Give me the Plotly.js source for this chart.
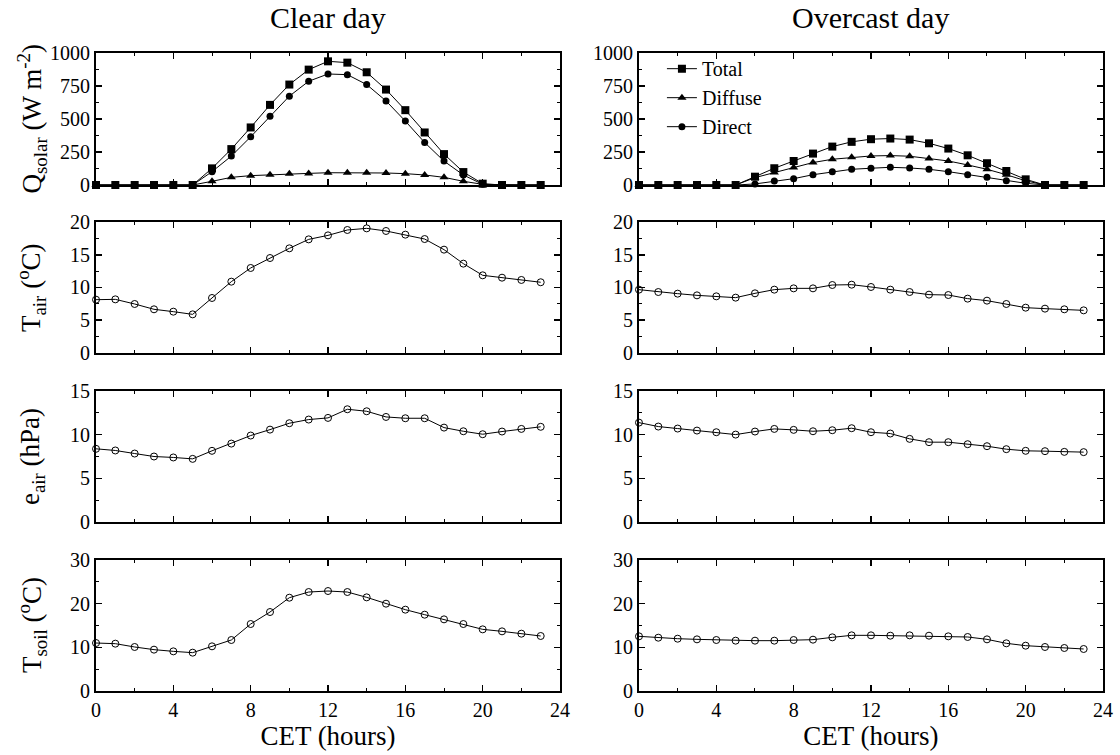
<!DOCTYPE html>
<html><head><meta charset="utf-8">
<script src="https://cdn.plot.ly/plotly-3.0.1.min.js"></script>
<style>html,body{margin:0;padding:0;background:#fff}</style>
</head><body>
<div id="chart" style="width:1120px;height:755px"></div>
<script>
const hours = [0,1,2,3,4,5,6,7,8,9,10,11,12,13,14,15,16,17,18,19,20,21,22,23];

const clearTotal   = [0,0,0,0,0,0,126,272,436,607,761,874,937,927,854,723,567,398,234,98,10,0,0,0];
const clearDiffuse = [0,0,0,0,0,0,28,58,71,78,86,88,93,93,93,91,86,76,58,28,5,0,0,0];
const clearDirect  = [0,0,0,0,0,0,101,219,365,521,673,786,841,836,761,637,484,322,181,76,5,0,0,0];

const overTotal   = [0,0,0,0,0,0,63,127,182,238,291,327,347,352,344,316,276,225,165,106,43,0,0,0];
const overDiffuse = [0,0,0,0,0,0,56,94,132,170,195,210,220,223,218,200,182,152,119,78,32,0,0,0];
const overDirect  = [0,0,0,0,0,0,8,30,48,78,101,119,127,134,129,119,101,78,58,33,13,0,0,0];

const clearTair = [8.14,8.19,7.48,6.67,6.31,5.90,8.40,10.89,12.98,14.50,15.98,17.35,17.96,18.78,19.03,18.63,18.07,17.40,15.78,13.64,11.86,11.50,11.15,10.8];
const overTair  = [9.67,9.31,9.06,8.80,8.65,8.45,9.11,9.67,9.87,9.87,10.38,10.43,10.08,9.67,9.31,8.91,8.85,8.30,7.99,7.48,6.92,6.77,6.67,6.51];

const clearEair = [8.38,8.19,7.84,7.50,7.39,7.23,8.15,8.98,9.90,10.58,11.31,11.73,11.92,12.91,12.68,12.03,11.88,11.88,10.81,10.39,10.05,10.36,10.66,10.9];
const overEair  = [11.38,10.93,10.70,10.47,10.28,10.01,10.36,10.66,10.55,10.39,10.51,10.74,10.28,10.13,9.52,9.14,9.14,8.91,8.68,8.34,8.15,8.11,8.03,8.0];

const clearTsoil = [10.99,10.84,10.08,9.47,9.08,8.78,10.23,11.68,15.34,18.09,21.37,22.67,22.90,22.67,21.45,20.0,18.63,17.48,16.41,15.34,14.12,13.66,13.13,12.6];
const overTsoil  = [12.52,12.21,11.98,11.83,11.68,11.53,11.53,11.53,11.68,11.76,12.29,12.75,12.75,12.67,12.75,12.67,12.52,12.37,11.83,10.92,10.38,10.08,9.85,9.62];

const columnTitles = ['Clear day', 'Overcast day'];
const rowTitles = ['Q<sub>solar</sub> (W m<sup>-2</sup>)', 'T<sub>air</sub> (<sup>o</sup>C)', 'e<sub>air</sub> (hPa)', 'T<sub>soil</sub> (<sup>o</sup>C)'];
const xTitle = 'CET (hours)';
const solarNames = ['Total', 'Diffuse', 'Direct'];

const FONT = 'Liberation Serif, DejaVu Serif, serif';
const colDomains = [[0, 0.4608], [0.5392, 1]];
const rowDomains = [[0.7931, 1], [0.5298, 0.7351], [0.2649, 0.4702], [0, 0.2053]];
const yRanges = [[0, 1000], [0, 20], [0, 15], [0, 30]];
const yDticks = [250, 5, 5, 10];
const yMinor = [125, 2.5, 2.5, 5];

const data = [];
function axId(r, c) { return (r - 1) * 2 + c; }
function ref(prefix, n) { return n === 1 ? prefix : prefix + n; }

const solarSets = [[clearTotal, clearDiffuse, clearDirect], [overTotal, overDiffuse, overDirect]];
const solarSymbols = ['square', 'triangle-up', 'circle'];
const solarSizes = [8, 8, 7];
for (let c = 1; c <= 2; c++) {
  const n = axId(1, c);
  solarSets[c - 1].forEach((ys, i) => {
    data.push({
      x: hours, y: ys, type: 'scatter', mode: 'lines+markers', name: solarNames[i],
      xaxis: ref('x', n), yaxis: ref('y', n), cliponaxis: false,
      showlegend: c === 2,
      line: {color: '#000', width: 1},
      marker: {symbol: solarSymbols[i], size: solarSizes[i], color: '#000'}
    });
  });
}
const otherSets = [[clearTair, overTair], [clearEair, overEair], [clearTsoil, overTsoil]];
otherSets.forEach((pair, k) => {
  const r = k + 2;
  pair.forEach((ys, ci) => {
    const n = axId(r, ci + 1);
    data.push({
      x: hours, y: ys, type: 'scatter', mode: 'lines+markers', showlegend: false,
      xaxis: ref('x', n), yaxis: ref('y', n), cliponaxis: false,
      line: {color: '#000', width: 1},
      marker: {symbol: 'circle-open', size: 7, color: '#000', line: {width: 1, color: '#000'}}
    });
  });
});

const layout = {
  width: 1120, height: 755,
  margin: {l: 96, r: 17, t: 53, b: 64},
  paper_bgcolor: '#fff', plot_bgcolor: '#fff',
  font: {family: FONT, color: '#000', size: 20},
  showlegend: true,
  legend: {x: 0.562, y: 1.006, xanchor: 'left', yanchor: 'top', bgcolor: 'rgba(0,0,0,0)',
           font: {family: FONT, size: 20, color: '#000'}, tracegroupgap: 0},
  annotations: [],
  hovermode: false
};

for (let r = 1; r <= 4; r++) {
  for (let c = 1; c <= 2; c++) {
    const n = axId(r, c);
    const xa = {
      domain: colDomains[c - 1], anchor: ref('y', n), range: [0, 24],
      tickmode: 'linear', tick0: 0, dtick: 4,
      ticks: 'inside', ticklen: 6, tickwidth: 1.5, tickcolor: '#000',
      showline: true, linewidth: 2, linecolor: '#000', mirror: 'allticks',
      showgrid: false, zeroline: false, showticklabels: r === 4,
      tickfont: {family: FONT, size: 20, color: '#000'},
      minor: {tickmode: 'linear', tick0: 0, dtick: 2, ticks: 'inside', ticklen: 3, tickwidth: 1, tickcolor: '#000', showgrid: false},
      fixedrange: true
    };
    if (r === 4) xa.title = {text: xTitle, font: {family: FONT, size: 27, color: '#000'}, standoff: 1};
    const ya = {
      domain: rowDomains[r - 1], anchor: ref('x', n), range: yRanges[r - 1],
      tickmode: 'linear', tick0: 0, dtick: yDticks[r - 1],
      ticks: 'inside', ticklen: 6, tickwidth: 1.5, tickcolor: '#000',
      showline: true, linewidth: 2, linecolor: '#000', mirror: 'allticks',
      showgrid: false, zeroline: false,
      tickfont: {family: FONT, size: 20, color: '#000'},
      minor: {tickmode: 'linear', tick0: 0, dtick: yMinor[r - 1], ticks: 'inside', ticklen: 3, tickwidth: 1, tickcolor: '#000', showgrid: false},
      fixedrange: true
    };
    layout[n === 1 ? 'xaxis' : 'xaxis' + n] = xa;
    layout[n === 1 ? 'yaxis' : 'yaxis' + n] = ya;
  }
}

columnTitles.forEach((t, i) => {
  const d = colDomains[i];
  layout.annotations.push({text: t, xref: 'paper', yref: 'paper', x: (d[0] + d[1]) / 2, y: 1.055,
    xanchor: 'center', yanchor: 'middle', showarrow: false, font: {family: FONT, size: 30, color: '#000'}});
});
rowTitles.forEach((t, i) => {
  const d = rowDomains[i];
  layout.annotations.push({text: t, xref: 'paper', yref: 'paper', x: -0.064, y: (d[0] + d[1]) / 2,
    xanchor: 'center', yanchor: 'middle', textangle: -90, showarrow: false, font: {family: FONT, size: 27, color: '#000'}});
});

Plotly.newPlot('chart', data, layout, {staticPlot: true, displayModeBar: false});
</script>
</body></html>
